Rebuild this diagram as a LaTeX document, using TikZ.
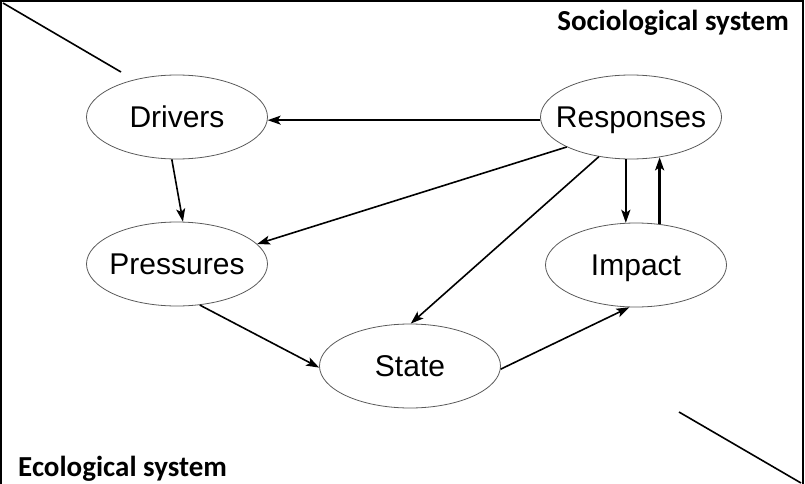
\documentclass[tikz,border=0pt]{standalone}
\usepackage{fontspec}
\setmainfont{Liberation Sans}
\newfontfamily\carlito{Carlito}
\usetikzlibrary{shapes.geometric,arrows.meta,calc}
\newcommand\stagetext[1]{\makebox[0pt]{#1}}
\begin{document}
\begin{tikzpicture}[x=1pt,y=-1pt,
  stage/.style={ellipse, draw=black!65, line width=0.8pt, minimum width=181pt, minimum height=84pt, inner sep=0pt, font=\fontsize{30}{36}\selectfont, text height=21.5pt, text depth=0pt},
  flow/.style={-{Stealth[length=13pt,width=9pt,inset=3pt]}, line width=1.6pt},
  thickflow/.style={flow, line width=2.4pt},
  syslabel/.style={inner sep=0pt, font=\carlito\bfseries\fontsize{29}{34}\selectfont},
  frame/.style={line width=2pt},
  divider/.style={line width=1.6pt}]
\useasboundingbox (0,0) rectangle (805,484);
% frame
\coordinate (bl) at (1,484);
\coordinate (tl) at (1,1);
\coordinate (tr) at (803,1);
\coordinate (br) at (803,484);
\draw[frame] (bl) -- (tl) -- (tr) -- (br);
% dividers
\coordinate (d1a) at (3,3);
\coordinate (d1b) at (121,72);
\coordinate (d2a) at (679,412);
\coordinate (d2b) at (801,483);
\draw[divider] (d1a) -- (d1b);
\draw[divider] (d2a) -- (d2b);
% labels
\node[syslabel, anchor=base east] (soc) at (789,31) {Sociological system};
\node[syslabel, anchor=base west] (eco) at (18,476) {Ecological system};
% stages
\node[stage] (drv) at (177,117) {\stagetext{Drivers}};
\node[stage] (prs) at (177,264) {\stagetext{Pressures}};
\node[stage] (res) at (631,117) {\stagetext{Responses}};
\node[stage] (imp) at (636,265) {\stagetext{Impact}};
\node[stage] (sta) at (410,366) {\stagetext{State}};
% connectors
\draw[flow] (res.182) -- (drv.358);
\draw[flow] (drv.263) -- (prs.82);
\draw[flow] (res.205.2) -- (prs.14.5);
\draw[flow] (res.231.7) -- (sta.89);
\draw[thickflow] (res.263) -- (res.263 |- imp.103.5);
\draw[thickflow] (imp.60.5) -- (imp.60.5 |- res.305.1);
\draw[flow] (prs.299.3) -- (sta.181.2);
\draw[flow] (sta.358) -- (imp.261.9);
\end{tikzpicture}
\end{document}
